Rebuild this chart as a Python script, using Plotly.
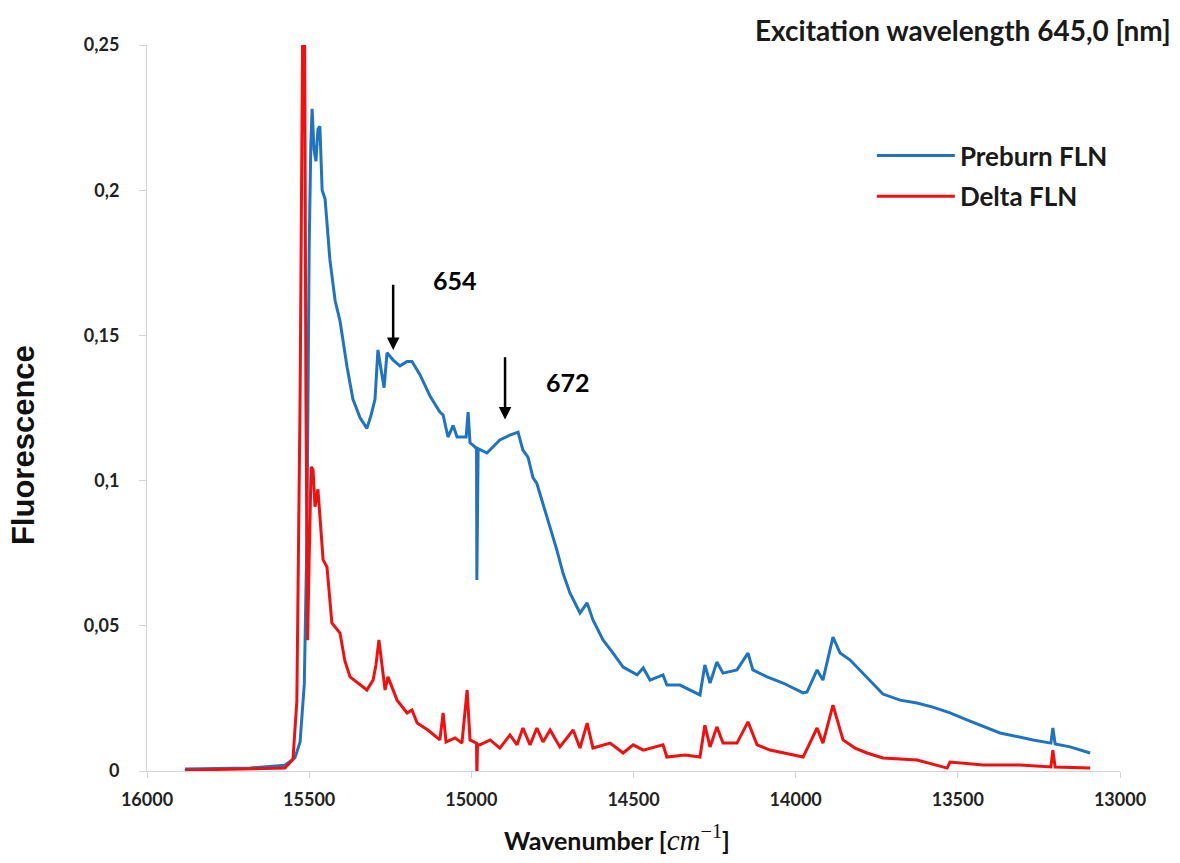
import plotly.graph_objects as go

# Preburn FLN spectrum (wavenumber in cm^-1, fluorescence)
preburn_wn = [15883, 15682, 15575, 15544, 15528, 15515, 15507, 15500, 15495, 15491,
              15485, 15479, 15473, 15467, 15460, 15451, 15436, 15420, 15405, 15383,
              15365, 15343, 15322, 15309, 15297, 15288, 15278, 15269, 15260, 15241,
              15220, 15198, 15183, 15158, 15127, 15097, 15087, 15072, 15056, 15044,
              15026, 15016, 15010, 15004, 14989, 14984, 14983, 14981, 14979, 14952,
              14912, 14881, 14856, 14841, 14825, 14810, 14798, 14767, 14736, 14717,
              14696, 14665, 14643, 14625, 14594, 14563, 14532, 14489, 14470, 14449,
              14409, 14397, 14357, 14295, 14280, 14264, 14243, 14224, 14181, 14147,
              14132, 14088, 14039, 13977, 13965, 13934, 13916, 13885, 13863, 13832,
              13780, 13731, 13678, 13626, 13577, 13524, 13472, 13370, 13268, 13213,
              13207, 13200, 13154, 13092]
preburn_val = [0.0007, 0.0010, 0.0020, 0.0045, 0.0100, 0.0300, 0.0800, 0.1800, 0.2150, 0.2280,
               0.2140, 0.2100, 0.2210, 0.2220, 0.2000, 0.1970, 0.1760, 0.1620, 0.1550, 0.1390,
               0.1280, 0.1216, 0.1180, 0.1226, 0.1280, 0.1450, 0.1380, 0.1320, 0.1440, 0.1415,
               0.1395, 0.1410, 0.1410, 0.1364, 0.1290, 0.1236, 0.1226, 0.1150, 0.1190, 0.1150,
               0.1150, 0.1150, 0.1236, 0.1130, 0.1116, 0.1110, 0.0658, 0.1110, 0.1110, 0.1095,
               0.1140, 0.1157, 0.1167, 0.1105, 0.1080, 0.1010, 0.0990, 0.0875, 0.0760, 0.0680,
               0.0613, 0.0544, 0.0579, 0.0520, 0.0451, 0.0406, 0.0358, 0.0331, 0.0355, 0.0313,
               0.0331, 0.0296, 0.0296, 0.0262, 0.0365, 0.0303, 0.0375, 0.0337, 0.0348, 0.0406,
               0.0348, 0.0324, 0.0303, 0.0269, 0.0272, 0.0348, 0.0313, 0.0461, 0.0406, 0.0382,
               0.0320, 0.0265, 0.0244, 0.0234, 0.0220, 0.0200, 0.0176, 0.0131, 0.0107, 0.0096,
               0.0148, 0.0093, 0.0083, 0.0062]

# Delta FLN spectrum
delta_wn = [15883, 15575, 15550, 15538, 15528, 15522, 15516, 15510, 15505, 15500,
            15494, 15488, 15482, 15473, 15467, 15457, 15445, 15430, 15405, 15390,
            15374, 15343, 15322, 15303, 15294, 15285, 15275, 15266, 15257, 15229,
            15198, 15183, 15167, 15134, 15097, 15087, 15078, 15050, 15029, 15013,
            15004, 14986, 14984, 14983, 14981, 14973, 14942, 14912, 14881, 14859,
            14841, 14819, 14798, 14779, 14757, 14727, 14686, 14665, 14643, 14625,
            14572, 14532, 14501, 14470, 14409, 14397, 14341, 14295, 14280, 14264,
            14243, 14224, 14181, 14147, 14119, 14079, 14039, 13977, 13934, 13916,
            13885, 13854, 13817, 13780, 13731, 13626, 13533, 13524, 13422, 13308,
            13213, 13207, 13200, 13092]
delta_val = [0.0003, 0.0010, 0.0040, 0.0240, 0.1280, 0.3200, 0.3200, 0.1280, 0.0450, 0.0730,
             0.1047, 0.1037, 0.0910, 0.0970, 0.0888, 0.0727, 0.0702, 0.0510, 0.0475, 0.0380,
             0.0324, 0.0296, 0.0279, 0.0313, 0.0365, 0.0451, 0.0348, 0.0279, 0.0324, 0.0244,
             0.0200, 0.0210, 0.0165, 0.0141, 0.0107, 0.0200, 0.0100, 0.0114, 0.0096, 0.0279,
             0.0107, 0.0096, 0.0096, -0.0020, 0.0090, 0.0090, 0.0107, 0.0079, 0.0124, 0.0090,
             0.0148, 0.0090, 0.0148, 0.0100, 0.0141, 0.0083, 0.0141, 0.0079, 0.0165, 0.0079,
             0.0096, 0.0062, 0.0090, 0.0072, 0.0090, 0.0048, 0.0055, 0.0048, 0.0158, 0.0083,
             0.0152, 0.0096, 0.0096, 0.0169, 0.0090, 0.0072, 0.0062, 0.0048, 0.0148, 0.0096,
             0.0227, 0.0107, 0.0079, 0.0062, 0.0045, 0.0038, 0.0010, 0.0031, 0.0021, 0.0021,
             0.0014, 0.0072, 0.0014, 0.0010]

# Peak markers: label text, wavenumber, arrow tip / tail heights, label position
marker_labels = ["654", "672"]
marker_wn = [15241, 14896]
marker_tip = [0.145, 0.121]
marker_tail = [0.168, 0.143]
label_wn = [15050, 14702]
label_val = [0.169, 0.134]

x_ticks = [16000, 15500, 15000, 14500, 14000, 13500, 13000]
y_ticks = [0, 0.05, 0.1, 0.15, 0.2, 0.25]
y_ticktext = ["0", "0,05", "0,1", "0,15", "0,2", "0,25"]

BLUE = "#1f74c1"
RED = "#f01010"
AXIS = "#d4d4d4"
TXT_FONT = "Lato, Open Sans, sans-serif"
ARIAL = "Liberation Sans, Arial, sans-serif"

fig = go.Figure()
fig.add_trace(go.Scatter(x=preburn_wn, y=preburn_val, mode="lines", legendgroup="a",
                         name="Preburn FLN", line=dict(color=BLUE, width=3)))
fig.add_trace(go.Scatter(x=delta_wn, y=delta_val, mode="lines", legendgroup="b",
                         name="Delta FLN", line=dict(color=RED, width=3)))

annotations = []
for txt, wn, tip, tail, lx, ly in zip(marker_labels, marker_wn, marker_tip, marker_tail,
                                      label_wn, label_val):
    annotations.append(dict(x=wn, y=tip, ax=wn, ay=tail, xref="x", yref="y",
                            axref="x", ayref="y", text="", showarrow=True,
                            arrowhead=2, arrowsize=1, arrowwidth=2.5, arrowcolor="black"))
    annotations.append(dict(x=lx, y=ly, xref="x", yref="y", text="<b>%s</b>" % txt,
                            showarrow=False, font=dict(family=TXT_FONT, size=25, color="black")))

# chart heading, top right
annotations.append(dict(x=1.054, y=1.0207, xref="paper", yref="paper",
                        xanchor="right", yanchor="middle",
                        text="<b>Excitation wavelength 645,0 [nm]</b>", showarrow=False,
                        font=dict(family=TXT_FONT, size=28, color="#1a1a1a")))
# y-axis title
annotations.append(dict(x=-0.1274, y=0.449, xref="paper", yref="paper",
                        xanchor="center", yanchor="middle", textangle=-90,
                        text="<b>Fluorescence</b>", showarrow=False,
                        font=dict(family=ARIAL, size=31, color="#111111")))
# x-axis title
annotations.append(dict(x=0.483, y=-0.092, xref="paper", yref="paper",
                        xanchor="center", yanchor="middle",
                        text=("<b>Wavenumber [</b><span style='font-family:Liberation Serif;"
                              "font-size:29px'><i>cm</i><sup>−1</sup></span><b>]</b>"),
                        showarrow=False,
                        font=dict(family=TXT_FONT, size=25, color="#111111")))

fig.update_layout(
    width=1180, height=863,
    margin=dict(l=147, r=60, t=45, b=92),
    paper_bgcolor="white", plot_bgcolor="white",
    showlegend=True,
    legend=dict(x=0.745, y=0.88, xanchor="left", yanchor="top",
                font=dict(family=TXT_FONT, size=26, color="#1a1a1a", weight="bold"),
                itemwidth=78, tracegroupgap=4, traceorder="grouped",
                bgcolor="rgba(0,0,0,0)"),
    annotations=annotations,
    xaxis=dict(range=[16000, 13000], tickvals=x_ticks, ticktext=[str(v) for v in x_ticks],
               showgrid=False, zeroline=False, showline=True, linecolor=AXIS, linewidth=1,
               ticks="outside", ticklen=6, tickcolor=AXIS, ticklabelstandoff=6,
               tickfont=dict(family=TXT_FONT, size=18, color="#222222", weight="bold")),
    yaxis=dict(range=[0, 0.25], tickvals=y_ticks, ticktext=y_ticktext,
               showgrid=False, zeroline=False, showline=True, linecolor=AXIS, linewidth=1,
               ticks="outside", ticklen=7, tickcolor=AXIS, ticklabelstandoff=16,
               tickfont=dict(family=TXT_FONT, size=18, color="#222222", weight="bold")),
)

fig.write_html("out.html")
